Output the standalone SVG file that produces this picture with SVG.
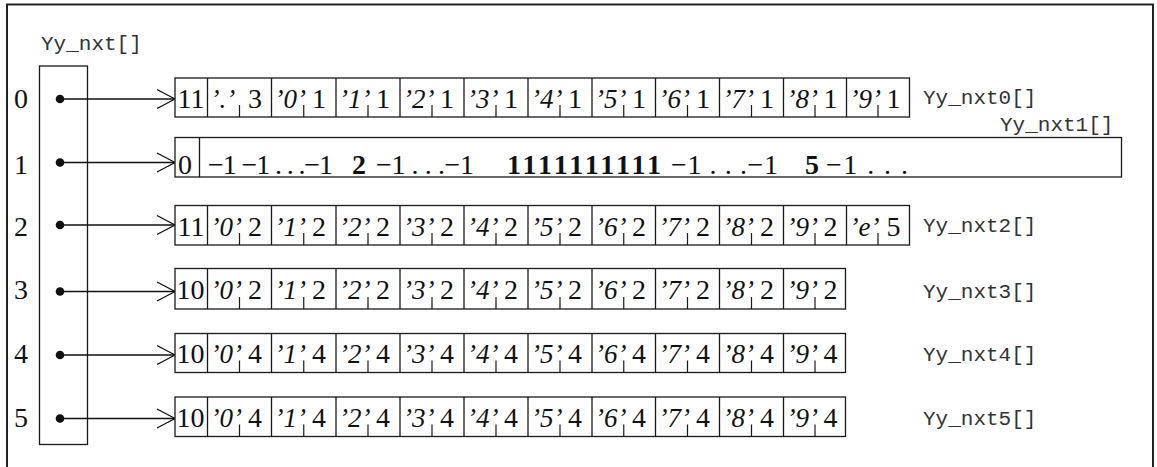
<svg xmlns="http://www.w3.org/2000/svg" width="1157" height="467" viewBox="0 0 1157 467">
<style>
.frame{fill:none;stroke:#222;stroke-width:2}
.box{fill:#fff;stroke:#1a1a1a;stroke-width:1.3}
.ln{stroke:#1a1a1a;stroke-width:1.3;fill:none}
.tk{stroke:#1a1a1a;stroke-width:1.2}
.ar{stroke:#111;stroke-width:1.3;fill:none}
.dot{fill:#111}
.mono{font-family:"Liberation Mono","DejaVu Sans Mono",monospace;font-size:21px;fill:#333}
.t{font-family:"Liberation Serif","Times New Roman",serif;font-size:28px;fill:#111}
.ch{font-family:"Liberation Serif","Times New Roman",serif;font-size:27px;font-style:italic;fill:#111}
.n{font-family:"Liberation Serif","Times New Roman",serif;font-size:28px;fill:#111;text-anchor:middle}
.b{font-family:"Liberation Serif","Times New Roman",serif;font-size:28px;font-weight:bold;fill:#111}
.idx{font-family:"Liberation Serif","Times New Roman",serif;font-size:28px;fill:#111;text-anchor:middle}
</style>
<path class="frame" d="M7,472 V4.5 H1153 V472"/>

<g id="index-array">
<text class="mono" x="41" y="50">Yy_nxt[]</text>
<rect class="box" x="39.5" y="66" width="48" height="378.5"/>
<text class="idx" x="21" y="107.5">0</text>
<text class="idx" x="21" y="173.5">1</text>
<text class="idx" x="21" y="236">2</text>
<text class="idx" x="21" y="299">3</text>
<text class="idx" x="21" y="363">4</text>
<text class="idx" x="21" y="426.5">5</text>
<circle class="dot" cx="60" cy="99" r="4.3"/>
<circle class="dot" cx="60" cy="162.5" r="4.3"/>
<circle class="dot" cx="60" cy="225" r="4.3"/>
<circle class="dot" cx="60" cy="291.5" r="4.3"/>
<circle class="dot" cx="60" cy="355" r="4.3"/>
<circle class="dot" cx="60" cy="418.5" r="4.3"/>
</g>

<g id="connectors">
<line class="ar" x1="60" y1="99" x2="175" y2="99"/><polyline class="ar" points="157,89.5 175,99 157,108.5"/>
<line class="ar" x1="60" y1="162.5" x2="175" y2="162.5"/><polyline class="ar" points="157,153 175,162.5 157,172"/>
<line class="ar" x1="60" y1="225" x2="175" y2="225"/><polyline class="ar" points="157,215.5 175,225 157,234.5"/>
<line class="ar" x1="60" y1="291.5" x2="175" y2="291.5"/><polyline class="ar" points="157,282 175,291.5 157,301"/>
<line class="ar" x1="60" y1="355" x2="175" y2="355"/><polyline class="ar" points="157,345.5 175,355 157,364.5"/>
<line class="ar" x1="60" y1="418.5" x2="175" y2="418.5"/><polyline class="ar" points="157,409 175,418.5 157,428"/>
</g>

<g id="Yy_nxt0">
<rect class="box" x="175" y="78" width="734.5" height="39"/>
<path class="ln" d="M207.5,78V117M271.5,78V117M336,78V117M400,78V117M464,78V117M528,78V117M592,78V117M655.5,78V117M719.5,78V117M783.5,78V117M846.5,78V117"/>
<path class="tk" d="M239.5,117V105M303.75,117V105M368,117V105M432,117V105M496,117V105M560,117V105M623.75,117V105M687.5,117V105M751.5,117V105M815,117V105M878,117V105"/>
<text class="t" x="177.5" y="107.5">11</text>
<text class="ch" x="210.5" y="107.5">’.’</text><text class="n" x="255" y="107.5">3</text>
<text class="ch" x="274.5" y="107.5">’0’</text><text class="n" x="319" y="107.5">1</text>
<text class="ch" x="339" y="107.5">’1’</text><text class="n" x="383" y="107.5">1</text>
<text class="ch" x="403" y="107.5">’2’</text><text class="n" x="447" y="107.5">1</text>
<text class="ch" x="467" y="107.5">’3’</text><text class="n" x="511" y="107.5">1</text>
<text class="ch" x="531" y="107.5">’4’</text><text class="n" x="575" y="107.5">1</text>
<text class="ch" x="595" y="107.5">’5’</text><text class="n" x="639" y="107.5">1</text>
<text class="ch" x="658.5" y="107.5">’6’</text><text class="n" x="703" y="107.5">1</text>
<text class="ch" x="722.5" y="107.5">’7’</text><text class="n" x="767" y="107.5">1</text>
<text class="ch" x="786.5" y="107.5">’8’</text><text class="n" x="830.5" y="107.5">1</text>
<text class="ch" x="849.5" y="107.5">’9’</text><text class="n" x="893.5" y="107.5">1</text>
<text class="mono" x="923" y="103.5">Yy_nxt0[]</text>
</g>

<g id="Yy_nxt1">
<text class="mono" x="1000" y="131">Yy_nxt1[]</text>
<rect class="box" x="175" y="137.5" width="946.5" height="39.5"/>
<path class="ln" d="M199.5,137.5V177"/>
<text class="t" x="178" y="173.5">0</text>
<text class="t" x="208" y="173.5" textLength="125" lengthAdjust="spacing">−1 −1 . . .−1</text>
<text class="b" x="352" y="173.5">2</text>
<text class="t" x="376" y="173.5" textLength="98" lengthAdjust="spacing">−1 . . .−1</text>
<text class="b" x="507" y="173.5" textLength="154" lengthAdjust="spacing">1111111111</text>
<text class="t" x="671" y="173.5" textLength="107" lengthAdjust="spacing">−1 . . .−1</text>
<text class="b" x="805" y="173.5">5</text>
<text class="t" x="826" y="173.5" textLength="82" lengthAdjust="spacing">−1 . . .</text>
</g>

<g id="Yy_nxt2">
<rect class="box" x="175" y="205.5" width="734.5" height="39.5"/>
<path class="ln" d="M207.5,205.5V245M271.5,205.5V245M336,205.5V245M400,205.5V245M464,205.5V245M528,205.5V245M592,205.5V245M655.5,205.5V245M719.5,205.5V245M783.5,205.5V245M846.5,205.5V245"/>
<path class="tk" d="M239.5,245V233M303.75,245V233M368,245V233M432,245V233M496,245V233M560,245V233M623.75,245V233M687.5,245V233M751.5,245V233M815,245V233M878,245V233"/>
<text class="t" x="177.5" y="236">11</text>
<text class="ch" x="210.5" y="236">’0’</text><text class="n" x="255" y="236">2</text>
<text class="ch" x="274.5" y="236">’1’</text><text class="n" x="319" y="236">2</text>
<text class="ch" x="339" y="236">’2’</text><text class="n" x="383" y="236">2</text>
<text class="ch" x="403" y="236">’3’</text><text class="n" x="447" y="236">2</text>
<text class="ch" x="467" y="236">’4’</text><text class="n" x="511" y="236">2</text>
<text class="ch" x="531" y="236">’5’</text><text class="n" x="575" y="236">2</text>
<text class="ch" x="595" y="236">’6’</text><text class="n" x="639" y="236">2</text>
<text class="ch" x="658.5" y="236">’7’</text><text class="n" x="703" y="236">2</text>
<text class="ch" x="722.5" y="236">’8’</text><text class="n" x="767" y="236">2</text>
<text class="ch" x="786.5" y="236">’9’</text><text class="n" x="830.5" y="236">2</text>
<text class="ch" x="849.5" y="236">’e’</text><text class="n" x="893.5" y="236">5</text>
<text class="mono" x="923" y="232">Yy_nxt2[]</text>
</g>

<g id="Yy_nxt3">
<rect class="box" x="175" y="268.5" width="670.5" height="40.5"/>
<path class="ln" d="M207.5,268.5V309M271.5,268.5V309M336,268.5V309M400,268.5V309M464,268.5V309M528,268.5V309M592,268.5V309M655.5,268.5V309M719.5,268.5V309M783.5,268.5V309"/>
<path class="tk" d="M239.5,309V297M303.75,309V297M368,309V297M432,309V297M496,309V297M560,309V297M623.75,309V297M687.5,309V297M751.5,309V297M815,309V297"/>
<text class="t" x="176.5" y="299">10</text>
<text class="ch" x="210.5" y="299">’0’</text><text class="n" x="255" y="299">2</text>
<text class="ch" x="274.5" y="299">’1’</text><text class="n" x="319" y="299">2</text>
<text class="ch" x="339" y="299">’2’</text><text class="n" x="383" y="299">2</text>
<text class="ch" x="403" y="299">’3’</text><text class="n" x="447" y="299">2</text>
<text class="ch" x="467" y="299">’4’</text><text class="n" x="511" y="299">2</text>
<text class="ch" x="531" y="299">’5’</text><text class="n" x="575" y="299">2</text>
<text class="ch" x="595" y="299">’6’</text><text class="n" x="639" y="299">2</text>
<text class="ch" x="658.5" y="299">’7’</text><text class="n" x="703" y="299">2</text>
<text class="ch" x="722.5" y="299">’8’</text><text class="n" x="767" y="299">2</text>
<text class="ch" x="786.5" y="299">’9’</text><text class="n" x="830.5" y="299">2</text>
<text class="mono" x="923" y="297.5">Yy_nxt3[]</text>
</g>

<g id="Yy_nxt4">
<rect class="box" x="175" y="333.5" width="670.5" height="39"/>
<path class="ln" d="M207.5,333.5V372.5M271.5,333.5V372.5M336,333.5V372.5M400,333.5V372.5M464,333.5V372.5M528,333.5V372.5M592,333.5V372.5M655.5,333.5V372.5M719.5,333.5V372.5M783.5,333.5V372.5"/>
<path class="tk" d="M239.5,372.5V360.5M303.75,372.5V360.5M368,372.5V360.5M432,372.5V360.5M496,372.5V360.5M560,372.5V360.5M623.75,372.5V360.5M687.5,372.5V360.5M751.5,372.5V360.5M815,372.5V360.5"/>
<text class="t" x="176.5" y="363">10</text>
<text class="ch" x="210.5" y="363">’0’</text><text class="n" x="255" y="363">4</text>
<text class="ch" x="274.5" y="363">’1’</text><text class="n" x="319" y="363">4</text>
<text class="ch" x="339" y="363">’2’</text><text class="n" x="383" y="363">4</text>
<text class="ch" x="403" y="363">’3’</text><text class="n" x="447" y="363">4</text>
<text class="ch" x="467" y="363">’4’</text><text class="n" x="511" y="363">4</text>
<text class="ch" x="531" y="363">’5’</text><text class="n" x="575" y="363">4</text>
<text class="ch" x="595" y="363">’6’</text><text class="n" x="639" y="363">4</text>
<text class="ch" x="658.5" y="363">’7’</text><text class="n" x="703" y="363">4</text>
<text class="ch" x="722.5" y="363">’8’</text><text class="n" x="767" y="363">4</text>
<text class="ch" x="786.5" y="363">’9’</text><text class="n" x="830.5" y="363">4</text>
<text class="mono" x="923" y="361">Yy_nxt4[]</text>
</g>

<g id="Yy_nxt5">
<rect class="box" x="175" y="397" width="670.5" height="39.5"/>
<path class="ln" d="M207.5,397V436.5M271.5,397V436.5M336,397V436.5M400,397V436.5M464,397V436.5M528,397V436.5M592,397V436.5M655.5,397V436.5M719.5,397V436.5M783.5,397V436.5"/>
<path class="tk" d="M239.5,436.5V424.5M303.75,436.5V424.5M368,436.5V424.5M432,436.5V424.5M496,436.5V424.5M560,436.5V424.5M623.75,436.5V424.5M687.5,436.5V424.5M751.5,436.5V424.5M815,436.5V424.5"/>
<text class="t" x="176.5" y="426.5">10</text>
<text class="ch" x="210.5" y="426.5">’0’</text><text class="n" x="255" y="426.5">4</text>
<text class="ch" x="274.5" y="426.5">’1’</text><text class="n" x="319" y="426.5">4</text>
<text class="ch" x="339" y="426.5">’2’</text><text class="n" x="383" y="426.5">4</text>
<text class="ch" x="403" y="426.5">’3’</text><text class="n" x="447" y="426.5">4</text>
<text class="ch" x="467" y="426.5">’4’</text><text class="n" x="511" y="426.5">4</text>
<text class="ch" x="531" y="426.5">’5’</text><text class="n" x="575" y="426.5">4</text>
<text class="ch" x="595" y="426.5">’6’</text><text class="n" x="639" y="426.5">4</text>
<text class="ch" x="658.5" y="426.5">’7’</text><text class="n" x="703" y="426.5">4</text>
<text class="ch" x="722.5" y="426.5">’8’</text><text class="n" x="767" y="426.5">4</text>
<text class="ch" x="786.5" y="426.5">’9’</text><text class="n" x="830.5" y="426.5">4</text>
<text class="mono" x="923" y="424.5">Yy_nxt5[]</text>
</g>
</svg>
